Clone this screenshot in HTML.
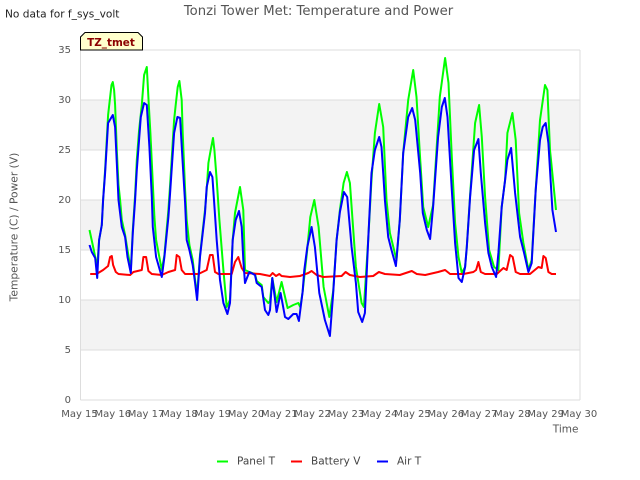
<!DOCTYPE html>
<html>
<head>
<meta charset="utf-8">
<title>Tonzi Tower Met: Temperature and Power</title>
<style>
html,body{margin:0;padding:0;background:#fff;width:640px;height:480px;overflow:hidden}
svg{display:block;position:absolute;left:0;top:0}
text{font-family:"DejaVu Sans",sans-serif}
</style>
</head>
<body>
<svg id="chart" width="640" height="480" viewBox="0 0 640 480" xmlns="http://www.w3.org/2000/svg">
  <g id="bands"></g>
  <g id="grid"></g>
  <g id="series" fill="none" stroke-width="2" stroke-linejoin="round"></g>
  <g id="ticks" font-size="10" fill="#555"></g>
  <text x="5" y="17.5" font-size="10.6" fill="#222">No data for f_sys_volt</text>
  <text x="318.5" y="15" font-size="13.2" fill="#555" text-anchor="middle">Tonzi Tower Met: Temperature and Power</text>
  <text transform="translate(17.5,227) rotate(-90)" font-size="10.7" fill="#555" text-anchor="middle">Temperature (C) / Power (V)</text>
  <text x="578.5" y="432.5" font-size="10.5" fill="#555" text-anchor="end">Time</text>
  <g>
    <polygon points="80.5,50 80.5,37 85,32.5 138,32.5 142.5,37 142.5,50" fill="#ffffcc" stroke="#000" stroke-width="1"/>
    <text x="111" y="46" font-size="10.4" font-weight="bold" fill="#8b0000" text-anchor="middle">TZ_tmet</text>
  </g>
  <g font-size="10.5" fill="#444">
    <line x1="217" x2="228" y1="461.5" y2="461.5" stroke="#00ff00" stroke-width="2"/>
    <text x="237" y="464.5">Panel T</text>
    <line x1="291" x2="302" y1="461.5" y2="461.5" stroke="#ff0000" stroke-width="2"/>
    <text x="311" y="464.5">Battery V</text>
    <line x1="377" x2="388" y1="461.5" y2="461.5" stroke="#0000ff" stroke-width="2"/>
    <text x="397" y="464.5">Air T</text>
  </g>
</svg>
<script>
const xTickLabels = ["May 15","May 16","May 17","May 18","May 19","May 20","May 21","May 22","May 23","May 24","May 25","May 26","May 27","May 28","May 29","May 30"];
const yTickValues = [0,5,10,15,20,25,30,35];

const panelDays = [0.27,0.40,0.50,0.56,0.64,0.68,0.74,0.83,0.88,0.93,0.97,1.01,1.04,1.09,1.14,1.19,1.24,1.34,1.41,1.51,1.57,1.64,1.69,1.76,1.84,1.91,1.99,2.05,2.10,2.22,2.27,2.44,2.52,2.64,2.69,2.81,2.86,2.92,2.97,3.04,3.07,3.14,3.19,3.27,3.37,3.44,3.50,3.59,3.74,3.79,3.84,3.91,3.98,4.02,4.09,4.17,4.29,4.39,4.49,4.57,4.64,4.79,4.89,4.94,5.07,5.24,5.29,5.44,5.49,5.64,5.69,5.76,5.89,6.04,6.22,6.39,6.54,6.60,6.67,6.80,6.90,7.02,7.15,7.30,7.47,7.59,7.69,7.79,7.90,8.00,8.09,8.27,8.44,8.51,8.64,8.74,8.84,8.97,9.09,9.19,9.29,9.49,9.59,9.69,9.84,9.99,10.09,10.19,10.29,10.44,10.59,10.79,10.95,11.05,11.15,11.25,11.35,11.45,11.55,11.60,11.70,11.85,11.97,12.05,12.15,12.27,12.42,12.55,12.65,12.75,12.82,12.97,13.07,13.17,13.30,13.45,13.55,13.67,13.80,13.95,14.02,14.10,14.28];
const panelValues = [17,15,13.3,16,17.5,20,23,28.5,30,31.5,31.8,31,29.5,25,21.5,20,18,16.5,15,13,17,20.5,24,27,29.5,32.5,33.3,29.5,26.7,18.3,16,13,14.5,19,21.5,28,29.5,31.3,31.9,30,26.7,21,18,15.5,14,12,10.5,14.5,19,21,23.7,25,26.2,25,22,18,13,9.3,10,16,18.7,21.3,19,13,12.8,12.6,11.9,11.5,10.3,9.7,9.9,12.2,9.8,11.8,9.2,9.5,9.7,9.3,10.8,14.7,18.3,20,17.3,11.3,8.3,10.9,16,19,21.7,22.8,21.7,13.3,9.7,9.3,16,22,26.7,29.6,27.3,20,16.7,14,18,24.7,30,33,30.3,24.7,19.3,17.3,19.5,30.3,34.2,31.7,24.3,17.7,14.3,12.7,13.3,15.3,20.5,27.7,29.5,26.3,20.3,15,13.3,13,19.3,22,26.7,28.7,26,18.7,15.7,13,14,21,28,31.5,31,25,19];

const batteryDays = [0.29,0.48,0.68,0.83,0.89,0.94,0.98,1.06,1.14,1.49,1.59,1.84,1.89,1.97,2.04,2.14,2.44,2.64,2.84,2.89,2.97,3.04,3.14,3.54,3.79,3.89,3.97,4.04,4.14,4.54,4.64,4.74,4.84,4.94,5.39,5.69,5.77,5.87,5.97,6.04,6.29,6.59,6.84,6.94,7.09,7.29,7.84,7.96,8.09,8.39,8.79,8.96,9.14,9.59,9.95,10.10,10.35,10.74,10.95,11.10,11.50,11.80,11.88,11.95,12.02,12.15,12.50,12.70,12.80,12.90,12.98,13.07,13.20,13.50,13.75,13.85,13.90,13.97,14.05,14.15,14.28];
const batteryValues = [12.6,12.6,13,13.4,14.3,14.4,13.5,12.8,12.6,12.5,12.8,13,14.3,14.3,12.9,12.6,12.5,12.8,13,14.5,14.3,13,12.6,12.6,13,14.5,14.5,12.8,12.6,12.6,13.8,14.3,13.2,12.7,12.6,12.4,12.7,12.4,12.6,12.4,12.3,12.4,12.7,12.9,12.5,12.3,12.4,12.8,12.5,12.3,12.4,12.8,12.6,12.5,12.9,12.6,12.5,12.8,13,12.6,12.6,12.8,13,13.8,12.8,12.6,12.6,13.2,13,14.5,14.3,12.8,12.6,12.6,13.3,13.2,14.4,14.2,12.8,12.6,12.6];

const airDays = [0.27,0.34,0.44,0.50,0.56,0.64,0.68,0.74,0.83,0.97,1.04,1.09,1.14,1.24,1.34,1.41,1.51,1.57,1.64,1.69,1.81,1.91,1.99,2.07,2.14,2.17,2.27,2.44,2.52,2.64,2.69,2.81,2.91,2.99,3.07,3.14,3.19,3.27,3.37,3.44,3.50,3.59,3.74,3.79,3.89,3.96,4.01,4.09,4.19,4.29,4.41,4.49,4.57,4.66,4.76,4.84,4.89,4.94,5.07,5.24,5.29,5.44,5.54,5.64,5.69,5.76,5.89,6.01,6.14,6.24,6.39,6.49,6.56,6.67,6.72,6.81,6.94,7.04,7.17,7.34,7.49,7.59,7.69,7.79,7.91,8.01,8.14,8.27,8.34,8.46,8.54,8.64,8.74,8.84,8.97,9.04,9.09,9.14,9.24,9.34,9.47,9.59,9.69,9.84,9.96,10.05,10.20,10.28,10.40,10.50,10.59,10.74,10.85,10.94,11.02,11.15,11.25,11.35,11.45,11.55,11.60,11.70,11.82,11.95,12.02,12.15,12.25,12.35,12.48,12.55,12.65,12.75,12.82,12.93,13.05,13.20,13.32,13.45,13.55,13.67,13.80,13.88,13.97,14.05,14.17,14.28];
const airValues = [15.5,14.8,14.2,12.2,16,17.5,20,22.7,27.7,28.5,27.3,23.7,20,17.3,16.3,14.3,12.7,16.7,20,23,28.3,29.7,29.5,25.3,20.3,17.3,14.3,12.3,14.3,18.3,20.7,26.7,28.3,28.2,23.7,19.7,16,15,13.5,11.7,10,14.3,18.7,21.3,22.8,22.3,20,16,12,9.7,8.6,9.7,16,18,18.9,17.3,14,11.7,12.8,12.5,11.7,11.3,9,8.5,9,12.2,8.8,10.7,8.3,8.1,8.6,8.6,7.9,10.8,13,15.3,17.3,15.3,10.7,8,6.4,10.7,16,18.8,20.8,20.3,15.3,11.7,8.8,7.8,8.7,16,22.7,25,26.3,25.3,22.7,20,16.3,15,13.4,18,24.7,28.3,29.2,28,22.7,18.7,17,16.1,19.3,26.3,29.3,30.2,28.3,21,15.7,12.2,11.8,13.3,15.3,20.3,25,26.1,22.7,17.7,14.7,13.3,12.3,14.7,19.3,22,24,25.2,20.7,16.3,14.7,12.8,13.7,21,26,27.3,27.7,25.7,19,16.8];

const NS = "http://www.w3.org/2000/svg";
const plotLeft = 80.5, plotRight = 580, plotTop = 50, plotBottom = 400;
const xMax = 15, yMax = 35;
function xScale(d){ return plotLeft + (plotRight - plotLeft) * d / xMax; }
function yScale(v){ return plotBottom - (plotBottom - plotTop) * v / yMax; }

const bands = document.getElementById('bands');
for (let i = 1; i < yTickValues.length - 1; i += 2) {
  const r = document.createElementNS(NS, 'rect');
  
  
  r.setAttribute('x', plotLeft);
  r.setAttribute('y', yScale(yTickValues[i + 1]));
  r.setAttribute('width', plotRight - plotLeft);
  r.setAttribute('height', yScale(yTickValues[i]) - yScale(yTickValues[i + 1]));
  r.setAttribute('fill', '#f3f3f3');
  bands.appendChild(r);
}

const grid = document.getElementById('grid');
yTickValues.forEach(function (v) {
  const l = document.createElementNS(NS, 'line');
  
  
  l.setAttribute('x1', plotLeft);
  l.setAttribute('x2', plotRight);
  l.setAttribute('y1', yScale(v));
  l.setAttribute('y2', yScale(v));
  l.setAttribute('stroke', '#dddddd');
  grid.appendChild(l);
});
[plotLeft, plotRight].forEach(function (x) {
  const l = document.createElementNS(NS, 'line');
  
  
  l.setAttribute('x1', x);
  l.setAttribute('x2', x);
  l.setAttribute('y1', plotTop);
  l.setAttribute('y2', plotBottom);
  l.setAttribute('stroke', '#dddddd');
  grid.appendChild(l);
});

const ticks = document.getElementById('ticks');
yTickValues.forEach(function (v) {
  const t = document.createElementNS(NS, 'text');
  
  
  t.setAttribute('x', 71);
  t.setAttribute('y', yScale(v) + 3);
  t.setAttribute('text-anchor', 'end');
  t.textContent = String(v);
  ticks.appendChild(t);
});
xTickLabels.forEach(function (label, i) {
  const t = document.createElementNS(NS, 'text');
  
  
  t.setAttribute('x', xScale(i) - 1);
  t.setAttribute('y', 417);
  t.setAttribute('text-anchor', 'middle');
  t.textContent = label;
  ticks.appendChild(t);
});

function drawLine(days, values, color, name) {
  const p = document.createElementNS(NS, 'polyline');
  
  
  p.setAttribute('stroke', color);
  p.setAttribute('points', days.map(function (d, i) {
    return xScale(d).toFixed(1) + ',' + yScale(values[i]).toFixed(1);
  }).join(' '));
  document.getElementById('series').appendChild(p);
}
drawLine(panelDays, panelValues, '#00ff00', 'series-panel-t');
drawLine(batteryDays, batteryValues, '#ff0000', 'series-battery-v');
drawLine(airDays, airValues, '#0000ff', 'series-air-t');
</script>
</body>
</html>
